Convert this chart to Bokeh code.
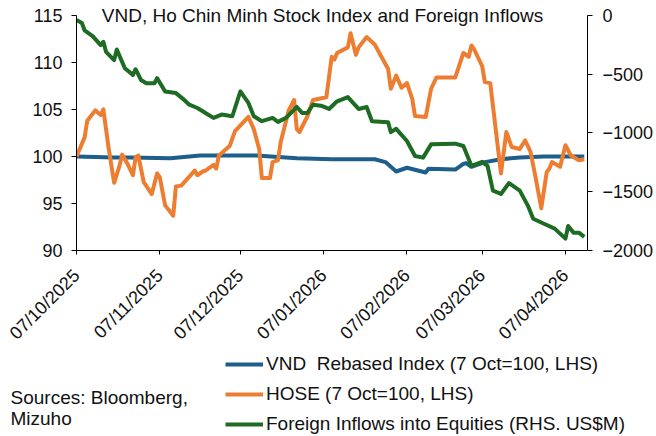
import math
import pandas as pd
from bokeh.plotting import figure
from bokeh.layouts import column
from bokeh.models import (Range1d, LinearAxis, FixedTicker, DatetimeTickFormatter,
                          Legend, LegendItem, Label)
from bokeh.embed import file_html
from bokeh.resources import INLINE

# ---------------- data ----------------
hose_dates = ["2025-10-07","2025-10-10","2025-10-11","2025-10-14","2025-10-16","2025-10-17","2025-10-19","2025-10-21","2025-10-23","2025-10-24",
              "2025-10-26","2025-10-28","2025-10-29","2025-10-30","2025-11-01","2025-11-04","2025-11-06","2025-11-07","2025-11-09","2025-11-12",
              "2025-11-13","2025-11-15","2025-11-20","2025-11-21","2025-11-23","2025-11-24","2025-11-27","2025-11-28","2025-11-29","2025-12-03",
              "2025-12-05","2025-12-10","2025-12-12","2025-12-14","2025-12-15","2025-12-18","2025-12-19","2025-12-21","2025-12-22","2025-12-25",
              "2025-12-27","2025-12-28","2025-12-29","2026-01-01","2026-01-03","2026-01-08","2026-01-10","2026-01-11","2026-01-12","2026-01-16",
              "2026-01-17","2026-01-19","2026-01-20","2026-01-23","2026-01-26","2026-01-31","2026-02-01","2026-02-03","2026-02-05","2026-02-07",
              "2026-02-09","2026-02-10","2026-02-14","2026-02-16","2026-02-18","2026-02-25","2026-02-28","2026-03-02","2026-03-03","2026-03-04",
              "2026-03-07","2026-03-08","2026-03-10","2026-03-14","2026-03-16","2026-03-18","2026-03-21","2026-03-23","2026-03-25","2026-03-27",
              "2026-03-29","2026-03-31","2026-04-01","2026-04-02","2026-04-05","2026-04-07","2026-04-09","2026-04-12","2026-04-14"]
hose_vals = [100.0,102.0,103.8,104.9,104.4,105.0,100.8,97.2,99.0,100.2,
             99.2,98.0,99.9,100.1,97.3,96.0,98.2,97.8,94.8,93.7,
             96.8,96.9,98.5,98.0,98.4,98.5,99.1,98.7,100.1,101.1,
             102.7,104.2,102.9,100.8,97.7,97.7,99.4,99.6,101.5,104.9,
             106.0,102.9,102.6,104.3,106.0,106.3,110.6,110.3,111.0,111.6,
             113.1,110.8,111.6,112.7,111.9,109.3,107.2,108.6,107.3,107.8,
             106.1,104.3,104.2,107.2,108.4,108.4,111.0,110.6,111.8,111.4,
             109.6,107.9,107.8,98.2,102.6,101.0,100.8,101.7,100.5,97.6,
             94.5,98.3,98.7,99.4,98.9,101.2,100.1,99.6,99.7]

vnd_dates = ["2025-10-07","2025-10-21","2025-10-27","2025-11-11","2025-11-22","2025-12-13","2025-12-28","2026-01-10","2026-01-26","2026-01-30",
             "2026-02-03","2026-02-07","2026-02-14","2026-02-15","2026-02-25","2026-02-28","2026-03-01","2026-03-03","2026-03-08","2026-03-14",
             "2026-03-21","2026-03-30","2026-04-14"]
vnd_vals = [100.0,99.9,99.9,99.8,100.1,100.1,99.8,99.7,99.7,99.4,
            98.4,98.8,98.3,98.7,98.6,99.2,99.3,98.9,99.4,99.7,
            99.9,100.0,100.0]

flow_dates = ["2025-10-07","2025-10-09","2025-10-10","2025-10-13","2025-10-16","2025-10-17","2025-10-18","2025-10-21","2025-10-22","2025-10-25",
              "2025-10-28","2025-10-29","2025-10-31","2025-11-02","2025-11-05","2025-11-06","2025-11-09","2025-11-13","2025-11-16","2025-11-18",
              "2025-11-21","2025-11-23","2025-11-24","2025-11-27","2025-11-30","2025-12-04","2025-12-07","2025-12-10","2025-12-12","2025-12-15",
              "2025-12-19","2025-12-21","2025-12-24","2025-12-28","2025-12-30","2026-01-01","2026-01-03","2026-01-06","2026-01-09","2026-01-12",
              "2026-01-16","2026-01-20","2026-01-23","2026-01-25","2026-01-31","2026-02-01","2026-02-03","2026-02-07","2026-02-10","2026-02-13",
              "2026-02-16","2026-02-25","2026-02-28","2026-03-03","2026-03-07","2026-03-09","2026-03-11","2026-03-14","2026-03-17","2026-03-21",
              "2026-03-24","2026-03-26","2026-03-30","2026-04-03","2026-04-07","2026-04-08","2026-04-10","2026-04-12","2026-04-14"]
flow_vals = [-40,-65,-127,-177,-253,-225,-310,-380,-290,-450,
             -506,-458,-549,-577,-577,-534,-647,-661,-717,-760,
             -788,-816,-830,-872,-844,-858,-647,-745,-858,-900,
             -872,-906,-872,-779,-830,-830,-760,-768,-796,-731,
             -695,-796,-779,-900,-909,-993,-965,-1069,-1196,-1210,
             -1097,-1091,-1111,-1280,-1246,-1280,-1491,-1519,-1426,-1491,
             -1618,-1730,-1772,-1814,-1899,-1792,-1848,-1848,-1884]

x_tick_dates = ["2025-10-07","2025-11-07","2025-12-07","2026-01-07","2026-02-07","2026-03-07","2026-04-07"]
left_ticks = [90, 95, 100, 105, 110, 115]
right_ticks = [-2000, -1500, -1000, -500, 0]

series_names = ["VND  Rebased Index (7 Oct=100, LHS)",
                "HOSE (7 Oct=100, LHS)",
                "Foreign Inflows into Equities (RHS. US$M)"]
title_text = "VND, Ho Chin Minh Stock Index and Foreign Inflows"
source_lines = ["Sources: Bloomberg,", "Mizuho"]

# ---------------- style ----------------
FONT = "Liberation Sans"
TXT = "#111111"
BLUE = "#1D5F8A"
ORANGE = "#ED7D31"
GREEN = "#1E6B24"
LW = 4

left_lo, left_hi = 90, 115
right_lo, right_hi = -2000, 0
top_pad = 15.0 / 237.0  # frame reaches 15 px above the top tick, axis lines stop at the tick

# ---------------- main chart ----------------
p1 = figure(width=656, height=353, output_backend="svg", toolbar_location=None,
            x_axis_type="datetime",
            x_range=Range1d(pd.Timestamp("2025-10-07"), pd.Timestamp("2026-04-15 05:00")),
            y_range=Range1d(left_lo, left_hi + (left_hi - left_lo) * top_pad),
            min_border_left=76, min_border_right=65, min_border_top=0, min_border_bottom=101)
p1.title.visible = False
p1.outline_line_color = None
p1.xgrid.visible = False
p1.ygrid.visible = False
p1.background_fill_color = "white"
p1.border_fill_color = "white"

p1.extra_y_ranges = {"flow": Range1d(right_lo, right_hi + (right_hi - right_lo) * top_pad)}
raxis = LinearAxis(y_range_name="flow")
p1.add_layout(raxis, "right")

r_vnd = p1.line(pd.to_datetime(vnd_dates), vnd_vals, line_color=BLUE, line_width=LW, line_join="round")
r_hose = p1.line(pd.to_datetime(hose_dates), hose_vals, line_color=ORANGE, line_width=LW, line_join="round")
r_flow = p1.line(pd.to_datetime(flow_dates), flow_vals, line_color=GREEN, line_width=LW, line_join="round",
                 y_range_name="flow")

p1.yaxis[0].ticker = FixedTicker(ticks=left_ticks)
p1.yaxis[0].bounds = (left_lo, left_hi)
raxis.ticker = FixedTicker(ticks=right_ticks)
raxis.bounds = (right_lo, right_hi)
p1.xaxis.ticker = FixedTicker(ticks=[pd.Timestamp(d).value / 1e6 for d in x_tick_dates])
fmt = "%d/%m/%Y"
p1.xaxis.formatter = DatetimeTickFormatter(milliseconds=fmt, seconds=fmt, minsec=fmt, minutes=fmt,
                                           hourmin=fmt, hours=fmt, days=fmt, months=fmt, years=fmt)
p1.xaxis.major_label_orientation = math.pi / 4

for ax in [p1.yaxis[0], raxis, p1.xaxis[0]]:
    ax.axis_line_color = "black"
    ax.axis_line_width = 1
    ax.major_tick_line_color = "black"
    ax.minor_tick_line_color = None
    ax.major_tick_in = 0
    ax.major_tick_out = 5
    ax.major_label_text_font = FONT
    ax.major_label_text_font_size = "18px"
    ax.major_label_text_color = TXT
p1.yaxis[0].major_label_standoff = 9
raxis.major_label_standoff = 10
p1.xaxis[0].major_tick_out = 4
p1.xaxis[0].major_label_standoff = 18

p1.add_layout(Label(x=246, y=235, x_units="screen", y_units="screen", text=title_text,
                    text_align="center", text_baseline="middle", text_font=FONT,
                    text_font_size="19px", text_color=TXT))

# ---------------- legend / sources strip ----------------
p2 = figure(width=656, height=82, output_backend="svg", toolbar_location=None,
            x_axis_location=None, y_axis_location=None,
            x_range=Range1d(0, 656), y_range=Range1d(0, 82),
            min_border=0, min_border_left=0, min_border_right=0,
            min_border_top=0, min_border_bottom=0)
p2.title.visible = False
p2.outline_line_color = None
p2.grid.visible = False
p2.background_fill_color = "white"
p2.border_fill_color = "white"

for fig in (p1, p2):
    try:
        fig.frame_align = False
    except Exception:
        pass

# legend keys (drawn off-range; only their legend swatches show)
l_vnd = p2.line([-60, -50], [-60, -60], line_color=BLUE, line_width=LW)
l_hose = p2.line([-60, -50], [-60, -60], line_color=ORANGE, line_width=LW)
l_flow = p2.line([-60, -50], [-60, -60], line_color=GREEN, line_width=LW)

legend = Legend(items=[LegendItem(label=series_names[0], renderers=[l_vnd]),
                       LegendItem(label=series_names[1], renderers=[l_hose]),
                       LegendItem(label=series_names[2], renderers=[l_flow])],
                location=(225, 0), orientation="vertical")
legend.label_text_font = FONT
legend.label_text_font_size = "19px"
legend.label_text_color = TXT
legend.glyph_width = 38
legend.glyph_height = 22
legend.label_height = 22
legend.label_standoff = 3
legend.spacing = 8
legend.padding = 0
legend.margin = 0
legend.border_line_color = None
legend.background_fill_alpha = 0
p2.add_layout(legend, "center")

for txt, yy in zip(source_lines, [38, 17]):
    p2.add_layout(Label(x=10, y=yy, x_units="screen", y_units="screen", text=txt,
                        text_align="left", text_baseline="middle", text_font=FONT,
                        text_font_size="19px", text_color=TXT))

p = column(p1, p2, spacing=0)
open("out.html", "w").write(file_html(p, INLINE))
